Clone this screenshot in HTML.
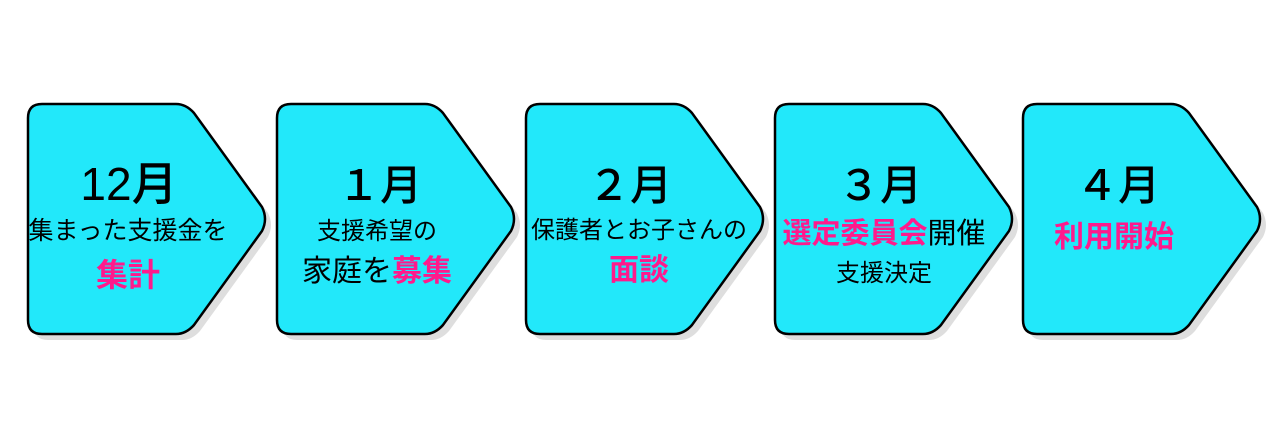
<!DOCTYPE html>
<html><head><meta charset="utf-8"><style>
html,body{margin:0;padding:0;background:#fff;}
text{font-family:"Liberation Sans","Noto Sans CJK JP",sans-serif;}
</style></head><body>
<svg width="1280" height="437" viewBox="0 0 1280 437" xmlns="http://www.w3.org/2000/svg">
<defs>
<path id="p" d="M14,0 H148 Q158,0 166,9 L234,103 Q240,115 234,127 L166,221 Q158,230 148,230 H14 Q0,230 0,216 V14 Q0,0 14,0 Z"/>
</defs>
<g>
<use href="#p" x="34" y="110" fill="#dedede"/>
<use href="#p" x="28" y="104" fill="#22e8fa" stroke="#000" stroke-width="2.5"/>
<use href="#p" x="283" y="110" fill="#dedede"/>
<use href="#p" x="277" y="104" fill="#22e8fa" stroke="#000" stroke-width="2.5"/>
<use href="#p" x="532" y="110" fill="#dedede"/>
<use href="#p" x="526" y="104" fill="#22e8fa" stroke="#000" stroke-width="2.5"/>
<use href="#p" x="781" y="110" fill="#dedede"/>
<use href="#p" x="775" y="104" fill="#22e8fa" stroke="#000" stroke-width="2.5"/>
<use href="#p" x="1029" y="110" fill="#dedede"/>
<use href="#p" x="1023" y="104" fill="#22e8fa" stroke="#000" stroke-width="2.5"/>
</g>
<g text-anchor="middle" fill="#000">
<text x="129" y="200" font-size="46" font-weight="500">12月</text>
<text x="128" y="239" font-size="25">集まった支援金を</text>
<text x="128" y="286" font-size="32" font-weight="bold" fill="#ff1a8c">集計</text>

<text x="380" y="200" font-size="42" font-weight="500">１月</text>
<text x="377" y="239" font-size="24">支援希望の</text>
<text x="377" y="281" font-size="30">家庭を<tspan fill="#ff1a8c" font-weight="bold">募集</tspan></text>

<text x="630" y="200" font-size="42" font-weight="500">２月</text>
<text x="639" y="238" font-size="24">保護者とお子さんの</text>
<text x="639" y="280" font-size="30" font-weight="bold" fill="#ff1a8c">面談</text>

<text x="880" y="200" font-size="42" font-weight="500">３月</text>
<text x="884" y="243" font-size="29"><tspan fill="#ff1a8c" font-weight="bold">選定委員会</tspan>開催</text>
<text x="884" y="281" font-size="24">支援決定</text>

<text x="1118" y="200" font-size="42" font-weight="500">４月</text>
<text x="1114" y="247" font-size="30" font-weight="bold" fill="#ff1a8c">利用開始</text>
</g>
</svg>
</body></html>
